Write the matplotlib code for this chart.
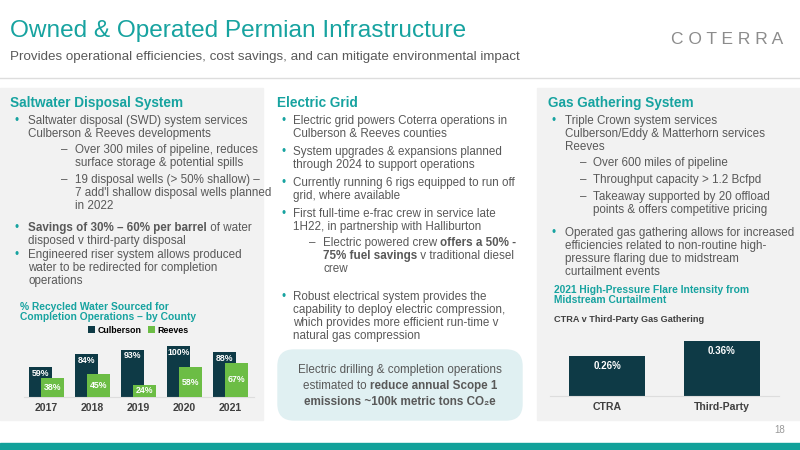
import matplotlib
matplotlib.use("Agg")
import matplotlib.pyplot as plt
from matplotlib.patches import Rectangle, FancyBboxPatch

plt.rcParams["font.family"] = ["Liberation Sans", "DejaVu Sans"]

years = ["2017", "2018", "2019", "2020", "2021"]
culberson = [59, 84, 93, 100, 88]
reeves = [38, 45, 24, 58, 67]
flare_cats = ["CTRA", "Third-Party"]
flare_vals = [0.26, 0.36]

TEAL = "#17a3a0"
GREY = "#595959"
NAVY = "#0e3a46"
GREEN = "#6cbd45"
W, H = 800, 450

fig = plt.figure(figsize=(8, 4.5), dpi=100)
fig.patch.set_facecolor("white")

def fx(x): return x / W
def fy(y): return 1 - y / H

def txt(x, y, s, size=8.4, color=GREY, weight="normal", va="top", ha="left", ls=1.12, **kw):
    return fig.text(fx(x), fy(y), s, fontsize=size, color=color, weight=weight, va=va, ha=ha,
                    linespacing=ls, **kw)

# backgrounds
for x0, x1 in [(0, 263), (537, 800)]:
    fig.patches.append(Rectangle((fx(x0), fy(420)), fx(x1 - x0), (420 - 88) / H,
                                 transform=fig.transFigure, color="#f2f2f2", zorder=-5))
fig.patches.append(Rectangle((0, fy(450)), 1, 7 / H, transform=fig.transFigure, color="#12a19a", zorder=-5))
fig.add_artist(plt.Line2D([0, 1], [fy(78), fy(78)], color="#dddddd", lw=1, transform=fig.transFigure))
fig.patches.append(FancyBboxPatch((fx(278), fy(420)), fx(244), (420 - 350) / H,
                                  boxstyle="round,pad=0,rounding_size=0.02", transform=fig.transFigure,
                                  color="#e0f0f2", zorder=-5, mutation_aspect=1.78))

# header
txt(10, 31, "Owned & Operated Permian Infrastructure", size=17.6, color=TEAL, va="center")
txt(10, 57, "Provides operational efficiencies, cost savings, and can mitigate environmental impact", size=9.6, va="center")
txt(727, 40, "C O T E R R A", size=12.5, color="#8c8c8c", va="center", ha="center")
txt(785, 430, "18", size=7, color="#999999", va="center", ha="right")

fig.canvas.draw()
r = fig.canvas.get_renderer()

def bullet(xb, xt, y, s, dash=False):
    fig.text(fx(xb), fy(y), "–" if dash else "•", fontsize=8.4, color=TEAL if not dash else GREY, va="top")
    txt(xt, y, s)

def mixed(x, y, parts, size=8.4):
    cur = x
    for s, b in parts:
        t = txt(cur, y, s, size=size, weight="bold" if b else "normal")
        cur += t.get_window_extent(r).width

# left column
txt(10, 103, "Saltwater Disposal System", size=9.8, color=TEAL, weight="bold", va="center")
bullet(14, 28, 115, "Saltwater disposal (SWD) system services\nCulberson & Reeves developments")
bullet(61, 75, 144, "Over 300 miles of pipeline, reduces\nsurface storage & potential spills", dash=True)
bullet(61, 75, 174, "19 disposal wells (> 50% shallow) –\n7 add'l shallow disposal wells planned\nin 2022", dash=True)
fig.text(fx(14), fy(222), "•", fontsize=8.4, color=TEAL, va="top")
mixed(28, 222, [("Savings of 30% – 60% per barrel", True), (" of water", False)])
txt(28, 235, "disposed v third-party disposal")
bullet(14, 28, 249, "Engineered riser system allows produced\nwater to be redirected for completion\noperations")
txt(20, 302, "% Recycled Water Sourced for\nCompletion Operations – by County", size=7.4, color=TEAL, weight="bold", ls=1.05)

# middle column
txt(277, 103, "Electric Grid", size=9.8, color=TEAL, weight="bold", va="center")
bullet(281, 293, 115, "Electric grid powers Coterra operations in\nCulberson & Reeves counties")
bullet(281, 293, 146, "System upgrades & expansions planned\nthrough 2024 to support operations")
bullet(281, 293, 177, "Currently running 6 rigs equipped to run off\ngrid, where available")
bullet(281, 293, 208, "First full-time e-frac crew in service late\n1H22, in partnership with Halliburton")
fig.text(fx(309), fy(237), "–", fontsize=8.4, color=GREY, va="top")
mixed(323, 237, [("Electric powered crew ", False), ("offers a 50% -", True)])
mixed(323, 250, [("75% fuel savings", True), (" v traditional diesel", False)])
txt(323, 263, "crew")
bullet(281, 293, 291, "Robust electrical system provides the\ncapability to deploy electric compression,\nwhich provides more efficient run-time v\nnatural gas compression")
txt(400, 370, "Electric drilling & completion operations", size=8.4, ha="center", va="center")
t1 = txt(0, 0, "estimated to ", size=8.4)
t2 = txt(0, 0, "reduce annual Scope 1", size=8.4, weight="bold")
w1 = t1.get_window_extent(r).width; w2 = t2.get_window_extent(r).width
t1.remove(); t2.remove()
x0 = 400 - (w1 + w2) / 2
txt(x0, 386, "estimated to ", va="center")
txt(x0 + w1, 386, "reduce annual Scope 1", weight="bold", va="center")
txt(400, 402, "emissions ~100k metric tons CO₂e", weight="bold", ha="center", va="center")

# right column
txt(548, 103, "Gas Gathering System", size=9.8, color=TEAL, weight="bold", va="center")
bullet(552, 565, 115, "Triple Crown system services\nCulberson/Eddy & Matterhorn services\nReeves")
bullet(580, 593, 157, "Over 600 miles of pipeline", dash=True)
bullet(580, 593, 174, "Throughput capacity > 1.2 Bcfpd", dash=True)
bullet(580, 593, 191, "Takeaway supported by 20 offload\npoints & offers competitive pricing", dash=True)
bullet(552, 565, 227, "Operated gas gathering allows for increased\nefficiencies related to non-routine high-\npressure flaring due to midstream\ncurtailment events")
txt(554, 285, "2021 High-Pressure Flare Intensity from\nMidstream Curtailment", size=7.4, color=TEAL, weight="bold", ls=1.05)
txt(554, 320, "CTRA v Third-Party Gas Gathering", size=6.6, color="#404040", weight="bold", va="center")

# left chart
ax = fig.add_axes([fx(23.5), fy(397), fx(230), (397 - 340) / H], zorder=5)
ax.set_xlim(-0.5, 4.5); ax.set_ylim(0, 112)
xs = list(range(len(years)))
ax.bar([x - 0.13 for x in xs], culberson, width=0.48, color=NAVY, label="Culberson", zorder=2)
ax.bar([x + 0.13 for x in xs], reeves, width=0.48, color=GREEN, label="Reeves", zorder=3)
for x, c, rv in zip(xs, culberson, reeves):
    ax.text(x - 0.13, c - 3, f"{c}%", ha="center", va="top", color="white", fontsize=6.3, weight="bold", zorder=4)
    ax.text(x + 0.13, rv / 2, f"{rv}%", ha="center", va="center", color="white", fontsize=6.3, weight="bold", zorder=4)
ax.set_xticks(xs, years, fontsize=7.6, weight="bold", color="#404040")
ax.tick_params(length=0, pad=4)
ax.set_yticks([])
for s in ax.spines.values(): s.set_visible(False)
ax.spines["bottom"].set_visible(True); ax.spines["bottom"].set_color("#dddddd")
ax.patch.set_alpha(0)
ax.legend(loc="lower center", bbox_to_anchor=(0.5, 1.0), ncol=2, frameon=False, fontsize=6.4,
          handlelength=0.7, handleheight=0.7, handletextpad=0.3, columnspacing=0.8, borderpad=0.1,
          prop={"weight": "bold", "size": 6.4})

# right chart
ax2 = fig.add_axes([fx(550), fy(396), fx(229), (396 - 330) / H], zorder=5)
ax2.set_xlim(-0.5, 1.5); ax2.set_ylim(0, 0.432)
ax2.bar([0, 1], flare_vals, width=0.66, color=NAVY)
for x, v in zip([0, 1], flare_vals):
    ax2.text(x, v - 0.03, f"{v:.2f}%", ha="center", va="top", color="white", fontsize=7, weight="bold")
ax2.set_xticks([0, 1], flare_cats, fontsize=7.6, weight="bold", color="#404040")
ax2.tick_params(length=0, pad=4)
ax2.set_yticks([])
for s in ax2.spines.values(): s.set_visible(False)
ax2.spines["bottom"].set_visible(True); ax2.spines["bottom"].set_color("#dddddd")
ax2.patch.set_alpha(0)

fig.savefig("out.png", dpi=100)
